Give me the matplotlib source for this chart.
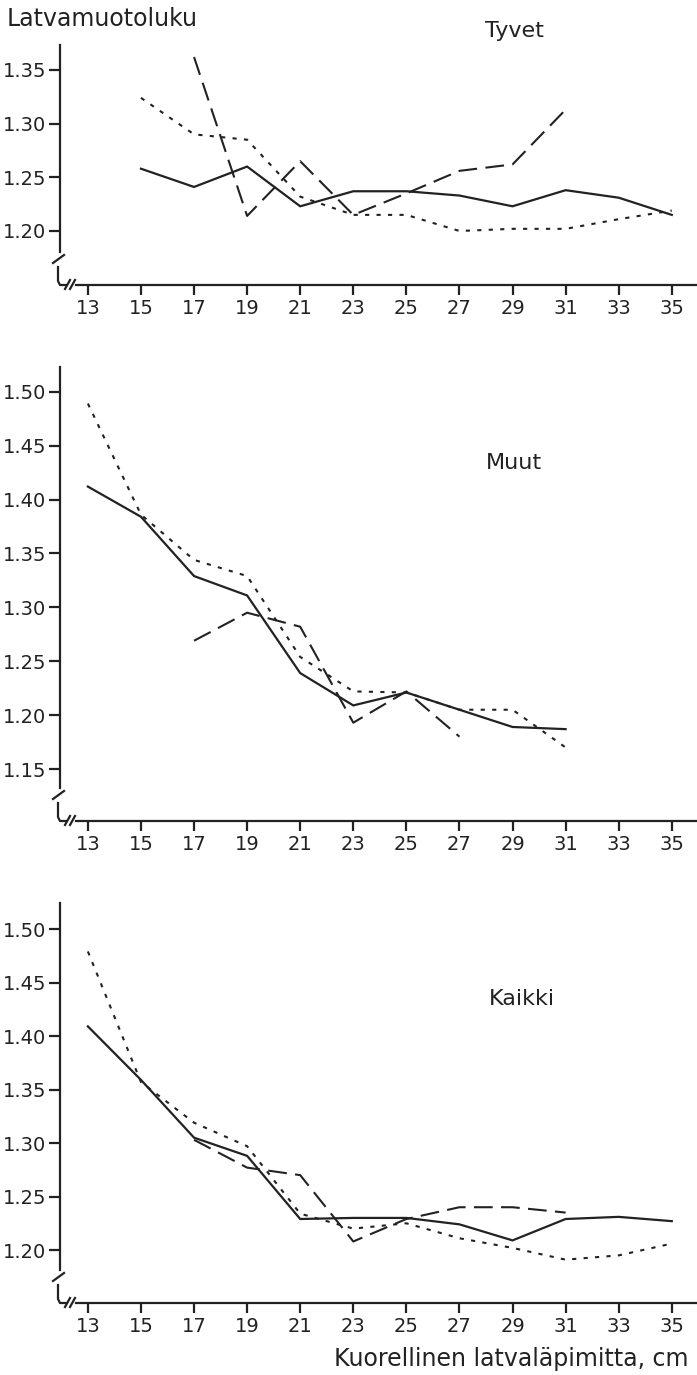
import numpy as np
import matplotlib.pyplot as plt

nan = np.nan
diam = [13, 15, 17, 19, 21, 23, 25, 27, 29, 31, 33, 35]

# Tyvet
tyvet_solid = [nan, 1.258, 1.241, 1.260, 1.223, 1.237, 1.237, 1.233, 1.223, 1.238, 1.231, 1.215]
tyvet_dot = [nan, 1.324, 1.290, 1.285, 1.232, 1.215, 1.215, 1.200, 1.202, 1.202, 1.211, 1.219]
tyvet_dash = [nan, nan, 1.362, 1.214, 1.265, 1.215, 1.235, 1.256, 1.262, 1.313, nan, nan]

# Muut
muut_solid = [1.412, 1.384, 1.329, 1.311, 1.239, 1.209, 1.221, 1.205, 1.189, 1.187, nan, nan]
muut_dot = [1.489, 1.386, 1.344, 1.329, 1.254, 1.222, 1.221, 1.205, 1.205, 1.170, nan, nan]
muut_dash = [nan, nan, 1.269, 1.295, 1.282, 1.193, 1.222, 1.180, nan, nan, nan, nan]

# Kaikki
kaikki_solid = [1.409, 1.359, 1.305, 1.288, 1.229, 1.230, 1.230, 1.224, 1.209, 1.229, 1.231, 1.227]
kaikki_dot = [1.479, 1.357, 1.319, 1.297, 1.234, 1.220, 1.225, 1.211, 1.202, 1.191, 1.195, 1.206]
kaikki_dash = [nan, nan, 1.303, 1.277, 1.270, 1.208, 1.229, 1.240, 1.240, 1.235, nan, nan]

ink = '#222222'
W, H = 697, 1375
fig = plt.figure(figsize=(W / 100, H / 100), dpi=100)

def px_axes(top, bottom):
    left = 60
    return fig.add_axes([left / W, 1 - bottom / H, (W - left) / W, (bottom - top) / H])

panels = [
    (45, 285, (1.1497, 1.3732), [1.20, 1.25, 1.30, 1.35], 'Tyvet', (514, 31),
     tyvet_solid, tyvet_dot, tyvet_dash),
    (367, 821, (1.1018, 1.5229), [1.15, 1.20, 1.25, 1.30, 1.35, 1.40, 1.45, 1.50], 'Muut', (514, 463),
     muut_solid, muut_dot, muut_dash),
    (903, 1303, (1.1505, 1.5243), [1.20, 1.25, 1.30, 1.35, 1.40, 1.45, 1.50], 'Kaikki', (522, 999),
     kaikki_solid, kaikki_dot, kaikki_dash),
]

for top, bottom, ylim, yticks, name, (tx, ty), solid, dot, dash in panels:
    ax = px_axes(top, bottom)
    ax.plot(diam, solid, color=ink, lw=1.6, solid_joinstyle='miter')
    ax.plot(diam, dot, color=ink, lw=1.5, dashes=(2.0, 3.5))
    ax.plot(diam, dash, color=ink, lw=1.5, dashes=(9, 4))
    ax.set_xlim(11.95, 35.95)
    ax.set_ylim(*ylim)
    ax.set_xticks(diam)
    ax.set_yticks(yticks)
    ax.set_yticklabels([f'{v:.2f}' for v in yticks])
    for s in ax.spines.values():
        s.set_visible(False)
    ax.tick_params(axis='y', direction='out', length=8, width=1.6, pad=2,
                   labelsize=14, color=ink, labelcolor=ink)
    ax.tick_params(axis='x', direction='out', length=7, width=1.6, pad=3,
                   labelsize=14, color=ink, labelcolor=ink)

    # broken axes drawn by hand (axes fraction coordinates)
    h = bottom - top
    wpx = W - 60
    fy = lambda p: p / h
    fx = lambda p: p / wpx
    kw = dict(transform=ax.transAxes, clip_on=False, color=ink, lw=1.6)
    ax.plot([0, 0], [fy(33), 1], **kw)
    ax.plot([fx(-7), fx(4)], [fy(22), fy(30)], **kw)
    ax.plot([fx(-2), fx(-2), 0, fx(6)], [fy(18), fy(4), 0, 0], **kw)
    ax.plot([fx(5), fx(10)], [fy(-4), fy(5)], **kw)
    ax.plot([fx(10), fx(15)], [fy(-4), fy(5)], **kw)
    ax.plot([fx(16), 1], [0, 0], **kw)

    fig.text(tx / W, 1 - ty / H, name, ha='center', va='center', fontsize=16, color=ink)

fig.text(7 / W, 1 - 19 / H, 'Latvamuotoluku', ha='left', va='center', fontsize=17, color=ink)
fig.text(688 / W, 1 - 1359 / H, 'Kuorellinen latvaläpimitta, cm', ha='right', va='center',
         fontsize=17, color=ink)

fig.savefig('out.png', dpi=100)
